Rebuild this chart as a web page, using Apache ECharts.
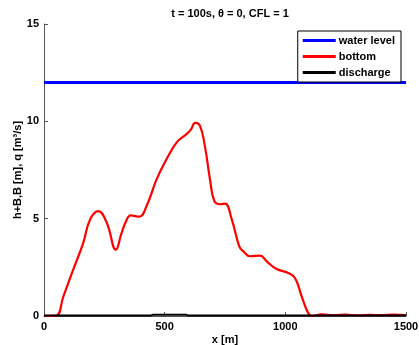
<!DOCTYPE html>
<html>
<head>
<meta charset="utf-8">
<script src="https://cdn.jsdelivr.net/npm/echarts@6/dist/echarts.min.js"></script>
<style>
  html, body { margin: 0; padding: 0; background: #fff; }
  #chart { width: 419px; height: 345px; }
</style>
</head>
<body>
<div id="chart"></div>
<script>
// values
const xTicks = [0, 500, 1000, 1500];
const yTicks = [0, 5, 10, 15];

const waterX = [0, 1500];
const waterY = [12, 12];

const bottomX = [0, 50, 80, 121, 163, 191, 225, 260, 298, 320, 340, 359, 395, 425, 467, 508, 550, 591, 610, 626, 646, 667, 688, 706, 729, 750, 778, 809, 826, 854, 895, 923, 964, 1012, 1040, 1068, 1095, 1110, 1150, 1200, 1250, 1300, 1350, 1400, 1450, 1500];
const bottomY = [0, 0.02, 1.0, 2.38, 3.77, 4.96, 5.39, 4.79, 3.41, 4.2, 4.87, 5.17, 5.10, 5.65, 7.03, 8.06, 8.92, 9.35, 9.6, 9.92, 9.78, 8.7, 7.0, 5.9, 5.74, 5.77, 4.96, 3.58, 3.32, 3.07, 3.10, 2.81, 2.41, 2.21, 1.95, 1.0, 0.14, 0, 0.08, 0.04, 0.07, 0.03, 0.06, 0.04, 0.07, 0.05];

const dischargeX = [0, 440, 450, 590, 600, 1500];
const dischargeY = [0.02, 0.02, 0.06, 0.06, 0.02, 0.02];

const zip = (xs, ys) => xs.map((x, i) => [x, ys[i]]);

const chart = echarts.init(document.getElementById('chart'));
const font = 'Liberation Sans, Arial, sans-serif';

const option = {
  backgroundColor: '#fff',
  animation: false,
  title: {
    text: 't = 100s, \u03b8 = 0, CFL = 1',
    left: 225,
    textAlign: 'center',
    top: 3,
    textStyle: { fontFamily: font, fontSize: 11, fontWeight: 'bold', color: '#000' },
  },
  grid: { left: 44, right: 13, top: 24, bottom: 29, outerBoundsMode: 'none' },
  legend: {
    right: 18,
    top: 31,
    orient: 'vertical',
    itemWidth: 33,
    itemHeight: 3,
    itemGap: 5,
    padding: [4, 6, 4, 5],
    borderColor: '#000',
    borderWidth: 1,
    backgroundColor: '#fff',
    textStyle: { fontFamily: font, fontSize: 11, fontWeight: 'bold', color: '#000', padding: [0, 0, 0, -2] },
    icon: 'rect',
    data: ['water level', 'bottom', 'discharge'],
  },
  xAxis: {
    type: 'value',
    min: 0,
    max: 1500,
    interval: 500,
    name: 'x [m]',
    nameLocation: 'middle',
    nameGap: 18,
    nameMoveOverlap: false,
    nameTextStyle: { fontFamily: font, fontSize: 11, fontWeight: 'bold', color: '#000' },
    axisLine: { lineStyle: { color: '#555', width: 1 } },
    axisTick: { inside: true, length: 4, lineStyle: { color: '#555' } },
    axisLabel: { fontFamily: font, fontSize: 11, fontWeight: 'bold', color: '#000', margin: 5,
      customValues: xTicks, formatter: (v) => String(v) },
    splitLine: { show: false },
  },
  yAxis: {
    type: 'value',
    min: 0,
    max: 15,
    interval: 5,
    name: 'h+B,B [m], q [m\u00b3/s]',
    nameLocation: 'middle',
    nameGap: 21,
    nameMoveOverlap: false,
    nameTextStyle: { fontFamily: font, fontSize: 11, fontWeight: 'bold', color: '#000' },
    axisLine: { show: true, lineStyle: { color: '#555', width: 1 } },
    axisTick: { show: true, inside: true, length: 4, lineStyle: { color: '#555' } },
    axisLabel: { fontFamily: font, fontSize: 11, fontWeight: 'bold', color: '#000', margin: 5,
      customValues: yTicks, formatter: (v) => String(v) },
    splitLine: { show: false },
  },
  series: [
    {
      name: 'water level',
      type: 'line',
      data: zip(waterX, waterY),
      showSymbol: false,
      lineStyle: { color: '#0000ff', width: 3 },
      itemStyle: { color: '#0000ff' },
    },
    {
      name: 'bottom',
      type: 'line',
      data: zip(bottomX, bottomY),
      smooth: 0.45,
      showSymbol: false,
      lineStyle: { color: '#ff0000', width: 2.2 },
      itemStyle: { color: '#ff0000' },
    },
    {
      name: 'discharge',
      type: 'line',
      data: zip(dischargeX, dischargeY),
      showSymbol: false,
      lineStyle: { color: '#000', width: 2 },
      itemStyle: { color: '#000' },
    },
  ],
};

chart.setOption(option);
</script>
</body>
</html>
